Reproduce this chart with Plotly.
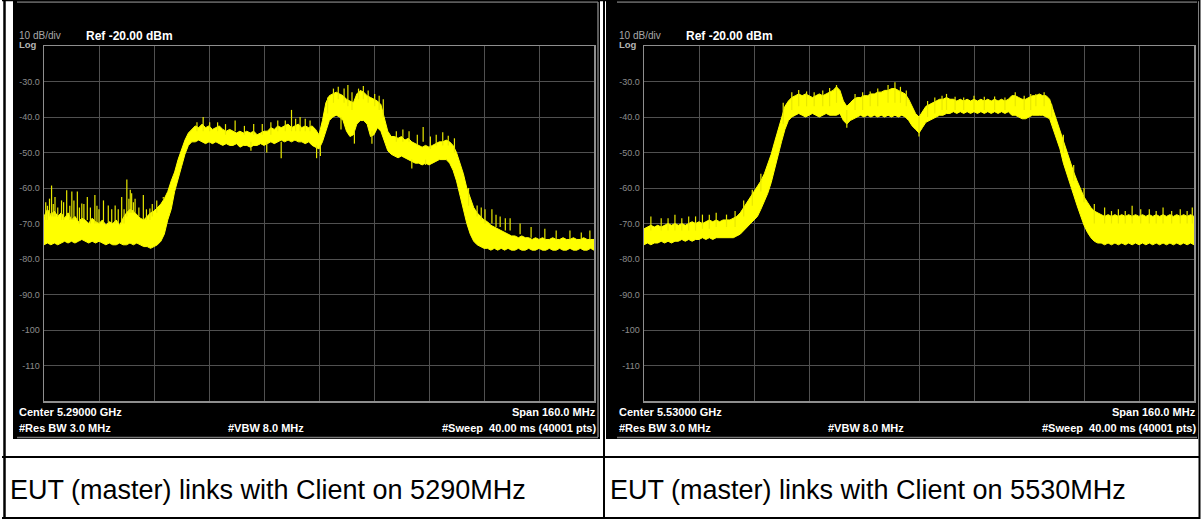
import plotly.graph_objects as go

# ---------------- data ----------------
# sweep sample grid: MHz offset from the start of the 160 MHz span (1 MHz steps)
OFFSETS_MHZ = list(range(0, 161))
SPAN_MHZ = 160.0
CENTERS_MHZ = [5290.0, 5530.0]

# Left screen (center 5.29 GHz): upper / lower envelope of the yellow trace, dBm
LEFT_UPPER = [
    -68, -66, -67.5, -66.5, -68, -67, -68.5, -67, -69, -68,
    -69.5, -68.5, -69, -70, -68.5, -69.5, -70, -69, -70.5, -69.5,
    -70, -69, -70.5, -68.5, -67, -66, -66.5, -67.5, -68.5, -69,
    -68, -67, -66.5, -65.5, -64.5, -63, -61, -58, -55.5, -52,
    -49, -46.5, -44.5, -43.5, -42.5, -43, -42, -43, -42.5, -43.5,
    -43, -42.5, -43.5, -44, -43.5, -44, -44.5, -44, -44.5, -44,
    -44.5, -44, -45, -44.5, -44, -44, -43, -43.5, -42.5, -43,
    -42.5, -42, -43, -42.5, -42, -43, -42.5, -43, -42.5, -43.5,
    -45, -41, -36, -34, -33.5, -33, -33.5, -34, -35, -35.5,
    -36, -33.5, -32.5, -33, -34, -34.5, -35, -35.5, -36.5, -40,
    -44, -45.5, -45.5, -46, -45.5, -46.5, -46, -47, -47.5, -48,
    -48.5, -48, -48.5, -48, -47.5, -47, -47, -46.5, -47, -48,
    -50, -53, -56, -60, -63, -65.5, -67, -68, -69, -69.5,
    -70.5, -71, -71.5, -72, -72.5, -73, -73.5, -73.5, -74, -73.5,
    -74, -74, -74.5, -74, -74.5, -74, -74.5, -74.5, -74, -74.5,
    -74.5, -74, -74.5, -74.5, -74, -74.5, -74.5, -74, -74.5, -74.5,
    -74.5,
]
LEFT_LOWER = [
    -76, -75.5, -76, -75.5, -76, -75.5, -75, -75.5, -75, -75.5,
    -75, -74.5, -75, -75.5, -75, -75.5, -75, -75.5, -76, -75.5,
    -76, -76, -75.5, -76, -76, -75.5, -76, -75.5, -76, -76.5,
    -76.5, -77, -76.5, -76, -75, -73, -69, -66, -61, -57.5,
    -54, -50.5, -48, -47, -47, -46.5, -47, -47.5, -47, -47.5,
    -47, -47.5, -48, -47.5, -48, -48, -47.5, -48.5, -48, -48,
    -48.5, -48, -48, -47.5, -48, -47.5, -47, -47.5, -47, -46.5,
    -47, -46.5, -47, -46.5, -47, -47, -47.5, -47, -48, -48.5,
    -49, -47, -44, -41, -40, -39.5, -40, -41, -44, -45.5,
    -45, -42, -41, -41, -42, -45.5, -45, -43, -44, -47,
    -49.5, -50.5, -51, -51.5, -51, -51.5, -52, -52.5, -53, -53,
    -53.5, -53, -53.5, -53, -52.5, -52, -52, -52, -53, -55,
    -58, -62, -66, -70, -73, -75, -76, -76.5, -77, -77,
    -77.5, -77, -77.5, -77, -77.5, -77, -77.5, -77.5, -77, -77.5,
    -77.5, -77, -77.5, -77.5, -77, -77.5, -77.5, -77, -77.5, -77.5,
    -77, -77.5, -77.5, -77, -77.5, -77.5, -77, -77.5, -77.5, -77,
    -77.5,
]
# spikes of the left trace: offset MHz, top dBm, foot dBm
LEFT_SPIKE_F = [1, 2.2, 3.2, 4, 5.1, 6.6, 7.5, 8.1, 9.7, 10.3, 11, 12.6, 13.5, 14.8,
                16, 17.3, 18.7, 19.7, 20.7, 21.6, 22.6, 23.3, 24.1, 25.5, 26.5, 27.6,
                28.9, 29.8, 30.8, 32.8, 34.7, 0.5, 1.6, 2.7, 5.7, 8.7, 11.6, 15.4, 24.7,
                25.1, 26, 31.5,
                44.5, 46.3, 48.2, 50.5, 52.8, 55.6, 58.3, 61, 63.5, 66, 68, 70.2, 72, 73.2,
                74.5, 76, 77.4, 60.2, 64.8, 69, 79.3, 80.4,
                82.5, 84.2, 85.6, 87.3, 88.4, 89.6, 91.5, 92.9, 94.3, 96.2, 97.5, 98.7,
                86.4, 90.3, 95.4,
                102.5, 104.4, 106.2, 108.6, 110.3, 112.4, 114.1, 116, 117.6, 111, 107,
                119.4,
                123.5, 126, 127.2, 128.3, 130.3, 131.5, 132.7, 134.2, 135.6, 138.5,
                141.7, 145.7, 149, 153, 156.3, 158.8]
LEFT_SPIKE_TOP = [-65, -59.3, -62.5, -65.5, -63.5, -60.6, -65, -61, -61, -65.5, -64.4,
                  -62.5, -65.5, -62, -66, -63.5, -64.9, -66, -64.9, -66, -62.5, -66,
                  -57.6, -61.5, -63, -65.5, -62, -66, -65.8, -63.5, -62.5,
                  -64, -63, -64.5, -64, -63.5, -64.5, -65, -63, -60.5, -64, -64.5,
                  -41.5, -40, -41.5, -41.5, -42, -41, -42.5, -42, -42, -41.5, -41, -41,
                  -38, -40.5, -40, -40.5, -41, -49.5, -50, -51.6, -51.6, -51,
                  -34.5, -32, -31.5, -32, -31, -33, -32, -31.3, -32.5, -33.5, -34, -35,
                  -43.5, -47.5, -47.5,
                  -44, -43.5, -44, -45, -42.8, -45.5, -45, -44.3, -45.3, -53.5, -54.5,
                  -46,
                  -60, -64.9, -65.5, -66, -66, -67.5, -68, -68.5, -68.5, -70,
                  -71, -71.5, -72, -72, -72.5, -72]
LEFT_SPIKE_FOOT = [-69, -68, -68, -68, -69, -68, -69, -69, -69, -70, -69, -69, -70, -70,
                   -70, -70, -70, -70, -70, -70, -70, -70, -68, -67, -67, -68, -69, -69,
                   -69, -67, -63, -69, -68, -68, -69, -69, -69, -70, -67, -67, -67, -68,
                   -44, -44, -44, -44, -45, -44, -45, -45, -45, -45, -44, -44,
                   -44, -44, -44, -44, -44, -47, -47, -47, -48, -48,
                   -39, -36, -35, -36, -37, -38, -35, -35, -36, -37, -38, -40,
                   -40, -44, -44,
                   -47, -47, -47, -48, -47, -49, -48, -48, -48, -52, -52,
                   -50,
                   -65, -68, -69, -70, -70, -71, -71, -72, -72, -73,
                   -74, -74.5, -74.5, -74.5, -74.5, -74.5]

# Right screen (center 5.53 GHz)
RIGHT_UPPER = [
    -71.5, -71, -70.5, -71, -70.5, -71, -70.5, -70, -70.5, -70,
    -70.5, -70, -70.5, -70, -69.5, -70, -69.5, -70, -69.5, -69,
    -69.5, -69, -69.5, -69, -69, -69, -68.5, -68, -67, -65.5,
    -64, -62.5, -61, -59.5, -58, -56, -53.5, -50.5, -47, -43.5,
    -40, -37, -35.5, -34.5, -34, -33.5, -34, -33.5, -34, -34.5,
    -34, -33.5, -34, -33.5, -33, -32.5, -31.5, -32.5, -35.5, -37,
    -36, -35, -34.5, -34.5, -34, -34, -33.5, -33.5, -33, -33,
    -32.5, -32.5, -32, -32, -32.5, -33, -33.5, -35, -37, -39,
    -40, -38.5, -37, -36.5, -36, -35.5, -35, -35, -34.5, -35,
    -35, -35.5, -35, -35.5, -35, -35.5, -35, -35.5, -35, -35.5,
    -35, -35.5, -35, -35.5, -35, -35.5, -35, -34, -34, -34.5,
    -35, -35, -34.5, -34, -34, -33.5, -34, -34, -35, -38,
    -41, -44, -47, -50, -53, -55.5, -58, -60.5, -62.5, -64,
    -65.5, -66.5, -67, -67.5, -68, -67.5, -68, -67.5, -68, -67.5,
    -68, -67.5, -68, -67.5, -68, -67.5, -68, -67.5, -68, -67.5,
    -68, -67.5, -68, -67.5, -68, -67.5, -68, -67.5, -68, -67.5,
    -68,
]
RIGHT_LOWER = [
    -76, -75.5, -76, -75.5, -75.5, -75, -75.5, -75, -75.5, -75,
    -75, -74.5, -75, -74.5, -75, -74.5, -74.5, -74, -74.5, -74,
    -74.5, -74, -74, -74, -74, -74, -74, -73.5, -73, -72,
    -71, -70, -69, -68, -66, -64, -61.5, -58.5, -55, -51,
    -47, -43.5, -41, -40, -39.5, -39, -39.5, -40, -39.5, -39,
    -39.5, -40, -39.5, -39, -39.5, -39.5, -39.5, -39, -41, -42,
    -41, -40.5, -40, -39.5, -40, -39.5, -40, -39.5, -40, -39.5,
    -40, -39.5, -40, -39.5, -40, -39.5, -40, -41, -42.5, -43.5,
    -44.5, -43, -41.5, -41, -40.5, -40, -39.5, -39.5, -39, -39,
    -38.5, -39, -38.5, -39, -38.5, -39, -38.5, -39, -38.5, -39,
    -38.5, -39, -38.5, -39, -38.5, -39, -38.5, -39.5, -39.5, -40,
    -40.5, -40.5, -40, -39.5, -39.5, -39.5, -39.5, -40, -40.5, -43,
    -46, -49, -53, -56, -59, -62, -65, -68, -70.5, -72.5,
    -74, -75, -75.5, -75.5, -76, -75.5, -76, -75.5, -76, -75.5,
    -76, -75.5, -76, -75.5, -76, -75.5, -76, -75.5, -76, -75.5,
    -76, -75.5, -76, -75.5, -76, -75.5, -76, -75.5, -76, -75.5,
    -76,
]
RIGHT_SPIKE_F = [2, 5, 9, 13, 17, 21, 24, 7, 11, 15, 19, 26.5, 29, 31.5, 34,
                 40.5, 43, 45, 47.3, 49.5, 52, 54, 56, 61.4, 63.6, 65.8, 68, 71, 73,
                 74.6, 76.3, 82.5, 84.6, 86.7, 88, 90.5, 93, 96, 99, 102, 105, 108,
                 110.6, 112.5, 114, 116.4, 118.6, 59, 80,
                 122, 125, 128, 131,
                 134, 136, 138, 140, 142, 144.5, 147, 149, 151, 153.5, 156, 158, 159.5]
RIGHT_SPIKE_TOP = [-68, -68.5, -67.5, -68, -67.5, -67, -67.5, -68.5, -68.5, -68, -67.5,
                   -66.5, -63.5, -60.5, -56,
                   -36, -33, -32.4, -32.8, -33, -32.5, -31.8, -31, -33.5, -33, -32.8,
                   -32, -31, -30.2, -31.5, -32.5, -35.5, -34.5, -34, -33.5, -34.3, -34.5,
                   -34, -34.3, -34.2, -34.5, -33, -34, -33.5, -33.5, -33, -36.5, -43,
                   -45.5,
                   -45, -53.5, -60, -64.5,
                   -65.5, -66.5, -66, -66.5, -65, -66, -66, -66.5, -65.5, -66.5, -66,
                   -66.5, -65.5]
RIGHT_SPIKE_FOOT = [-72, -72, -72, -72, -71.5, -71, -71, -72, -72, -72, -71.5, -71, -68,
                    -65, -61,
                    -42, -38, -37, -37, -37, -37, -37, -36, -38, -38, -37, -37,
                    -36, -36, -36, -37, -40, -39, -38, -38, -38, -38, -38, -38, -38, -38,
                    -37, -38, -38, -37, -37, -40, -38, -40,
                    -50, -58, -64, -70,
                    -70, -70, -70, -70, -70, -70, -70, -70, -70, -70, -70, -70, -70]

Y_TICK_VALS = [-30, -40, -50, -60, -70, -80, -90, -100, -110]
Y_TICK_TEXT = ["-30.0", "-40.0", "-50.0", "-60.0", "-70.0", "-80.0", "-90.0", "-100", "-110"]

CENTER_LABELS = ["Center 5.29000 GHz", "Center 5.53000 GHz"]
CAPTIONS = ["EUT (master) links with Client on 5290MHz",
            "EUT (master) links with Client on 5530MHz"]

# ---------------- layout helpers ----------------
W, H = 1202, 519
FONT = "Liberation Sans, Arial, sans-serif"
YEL = "#ffff00"


def fx(x):
    return x / W


def fy(y):
    return 1 - y / H


fig = go.Figure()

panels = [
    (LEFT_UPPER, LEFT_LOWER, LEFT_SPIKE_F, LEFT_SPIKE_TOP, LEFT_SPIKE_FOOT),
    (RIGHT_UPPER, RIGHT_LOWER, RIGHT_SPIKE_F, RIGHT_SPIKE_TOP, RIGHT_SPIKE_FOOT),
]

shapes = []
annotations = []


def txt(x, y, s, size, color="white", bold=False, xanchor="left", family=FONT):
    annotations.append(dict(
        x=fx(x), y=fy(y), xref="paper", yref="paper", text=("<b>%s</b>" % s) if bold else s,
        showarrow=False, xanchor=xanchor, yanchor="middle", borderpad=0,
        font=dict(family=family, size=size, color=color)))


def rect(x0, y0, x1, y1, color):
    shapes.append(dict(type="rect", xref="paper", yref="paper", x0=fx(x0), x1=fx(x1),
                       y0=fy(y1), y1=fy(y0), fillcolor=color, line=dict(width=0), layer="below"))


def hline(x0, x1, y, color, w=1):
    shapes.append(dict(type="line", xref="paper", yref="paper", x0=fx(x0), x1=fx(x1),
                       y0=fy(y), y1=fy(y), line=dict(color=color, width=w), layer="above"))


def vline(x, y0, y1, color, w=1):
    shapes.append(dict(type="line", xref="paper", yref="paper", x0=fx(x), x1=fx(x),
                       y0=fy(y0), y1=fy(y1), line=dict(color=color, width=w), layer="above"))


# analyzer screen backgrounds
rect(13, 1, 600, 439, "black")
rect(606, 1, 1198, 439, "black")

for i, (up, lo, sf, st, sb) in enumerate(panels):
    ox = 600 * i
    start = CENTERS_MHZ[i] - SPAN_MHZ / 2
    freqs = [start + o for o in OFFSETS_MHZ]
    xa = "x" if i == 0 else "x2"
    ya = "y" if i == 0 else "y2"
    # filled band of the trace
    fig.add_trace(go.Scatter(
        x=freqs + freqs[::-1], y=up + lo[::-1], mode="lines", fill="toself",
        fillcolor=YEL, line=dict(color=YEL, width=1), xaxis=xa, yaxis=ya,
        hoverinfo="skip", showlegend=False))
    # spikes
    spx, spy = [], []
    for f, t, b in zip(sf, st, sb):
        spx += [start + f, start + f, None]
        spy += [b, t, None]
    fig.add_trace(go.Scatter(x=spx, y=spy, mode="lines", line=dict(color="#e8e800", width=1.2),
                             xaxis=xa, yaxis=ya, hoverinfo="skip", showlegend=False))

    # frame of the analyzer screen
    hline(17 + ox, 598 + ox if i == 0 else 1197, 2, "#7a7a7a", 1.5)
    if i == 0:
        vline(598, 2, 437, "#7a7a7a", 1.5)
    hline(17 + ox, 598 + ox if i == 0 else 1197, 437.5, "#7a7a7a", 1.5)

    # texts on the analyzer screen
    txt(18 + ox, 35.5, "10 dB/div", 10, color="#a8a8a8")
    txt(18 + ox, 44.5, "Log", 9.5, color="#b4b4b4", bold=True)
    txt(85 + ox, 36, "Ref -20.00 dBm", 12, bold=True)
    right_edge = 597 + ox if i == 0 else 1197
    txt(18 + ox, 412, CENTER_LABELS[i], 11, bold=True)
    txt(18 + ox, 428, "#Res BW 3.0 MHz", 11, bold=True)
    txt(227 + ox, 428, "#VBW 8.0 MHz", 11, bold=True)
    txt(right_edge, 412, "Span 160.0 MHz", 11, bold=True, xanchor="right")
    txt(right_edge, 428, "#Sweep\u00a0 40.00 ms (40001 pts)", 11, bold=True, xanchor="right")

    # caption row
    txt(9 + ox, 490, CAPTIONS[i], 27, color="black")

    axis_common = dict(showgrid=True, gridcolor="#505050", gridwidth=1, zeroline=False,
                       showline=True, mirror=True, linecolor="#8e8e8e", linewidth=1.5,
                       fixedrange=True)
    xkey = "xaxis" if i == 0 else "xaxis2"
    ykey = "yaxis" if i == 0 else "yaxis2"
    fig.update_layout(**{
        xkey: dict(domain=[fx(44 + ox), fx(594 + ox)], range=[start, start + SPAN_MHZ],
                   tick0=start, dtick=16, showticklabels=False, anchor=ya, **axis_common),
        ykey: dict(domain=[fy(401), fy(46)], range=[-120, -20], tickmode="array",
                   tickvals=Y_TICK_VALS, ticktext=Y_TICK_TEXT, ticks="", ticklabelstandoff=1,
                   tickfont=dict(family=FONT, size=9, color="#8c8c8c"), anchor=xa,
                   **axis_common),
    })

# table rules
hline(2, 1200, 0.5, "black", 1.5)
hline(2, 1200, 457, "black", 2)
hline(2, 1200, 518, "black", 2)
vline(4.5, 0, 519, "black", 2.5)
vline(604, 0, 519, "black", 2)
vline(1199.5, 0, 519, "black", 2)

fig.update_layout(
    width=W, height=H, margin=dict(l=0, r=0, t=0, b=0),
    paper_bgcolor="white", plot_bgcolor="black",
    shapes=shapes, annotations=annotations, showlegend=False,
)

fig.write_html(
    "out.html",
    config={"displayModeBar": False, "staticPlot": True},
    post_script="document.body.style.margin='0';document.body.style.overflow='hidden';",
)
